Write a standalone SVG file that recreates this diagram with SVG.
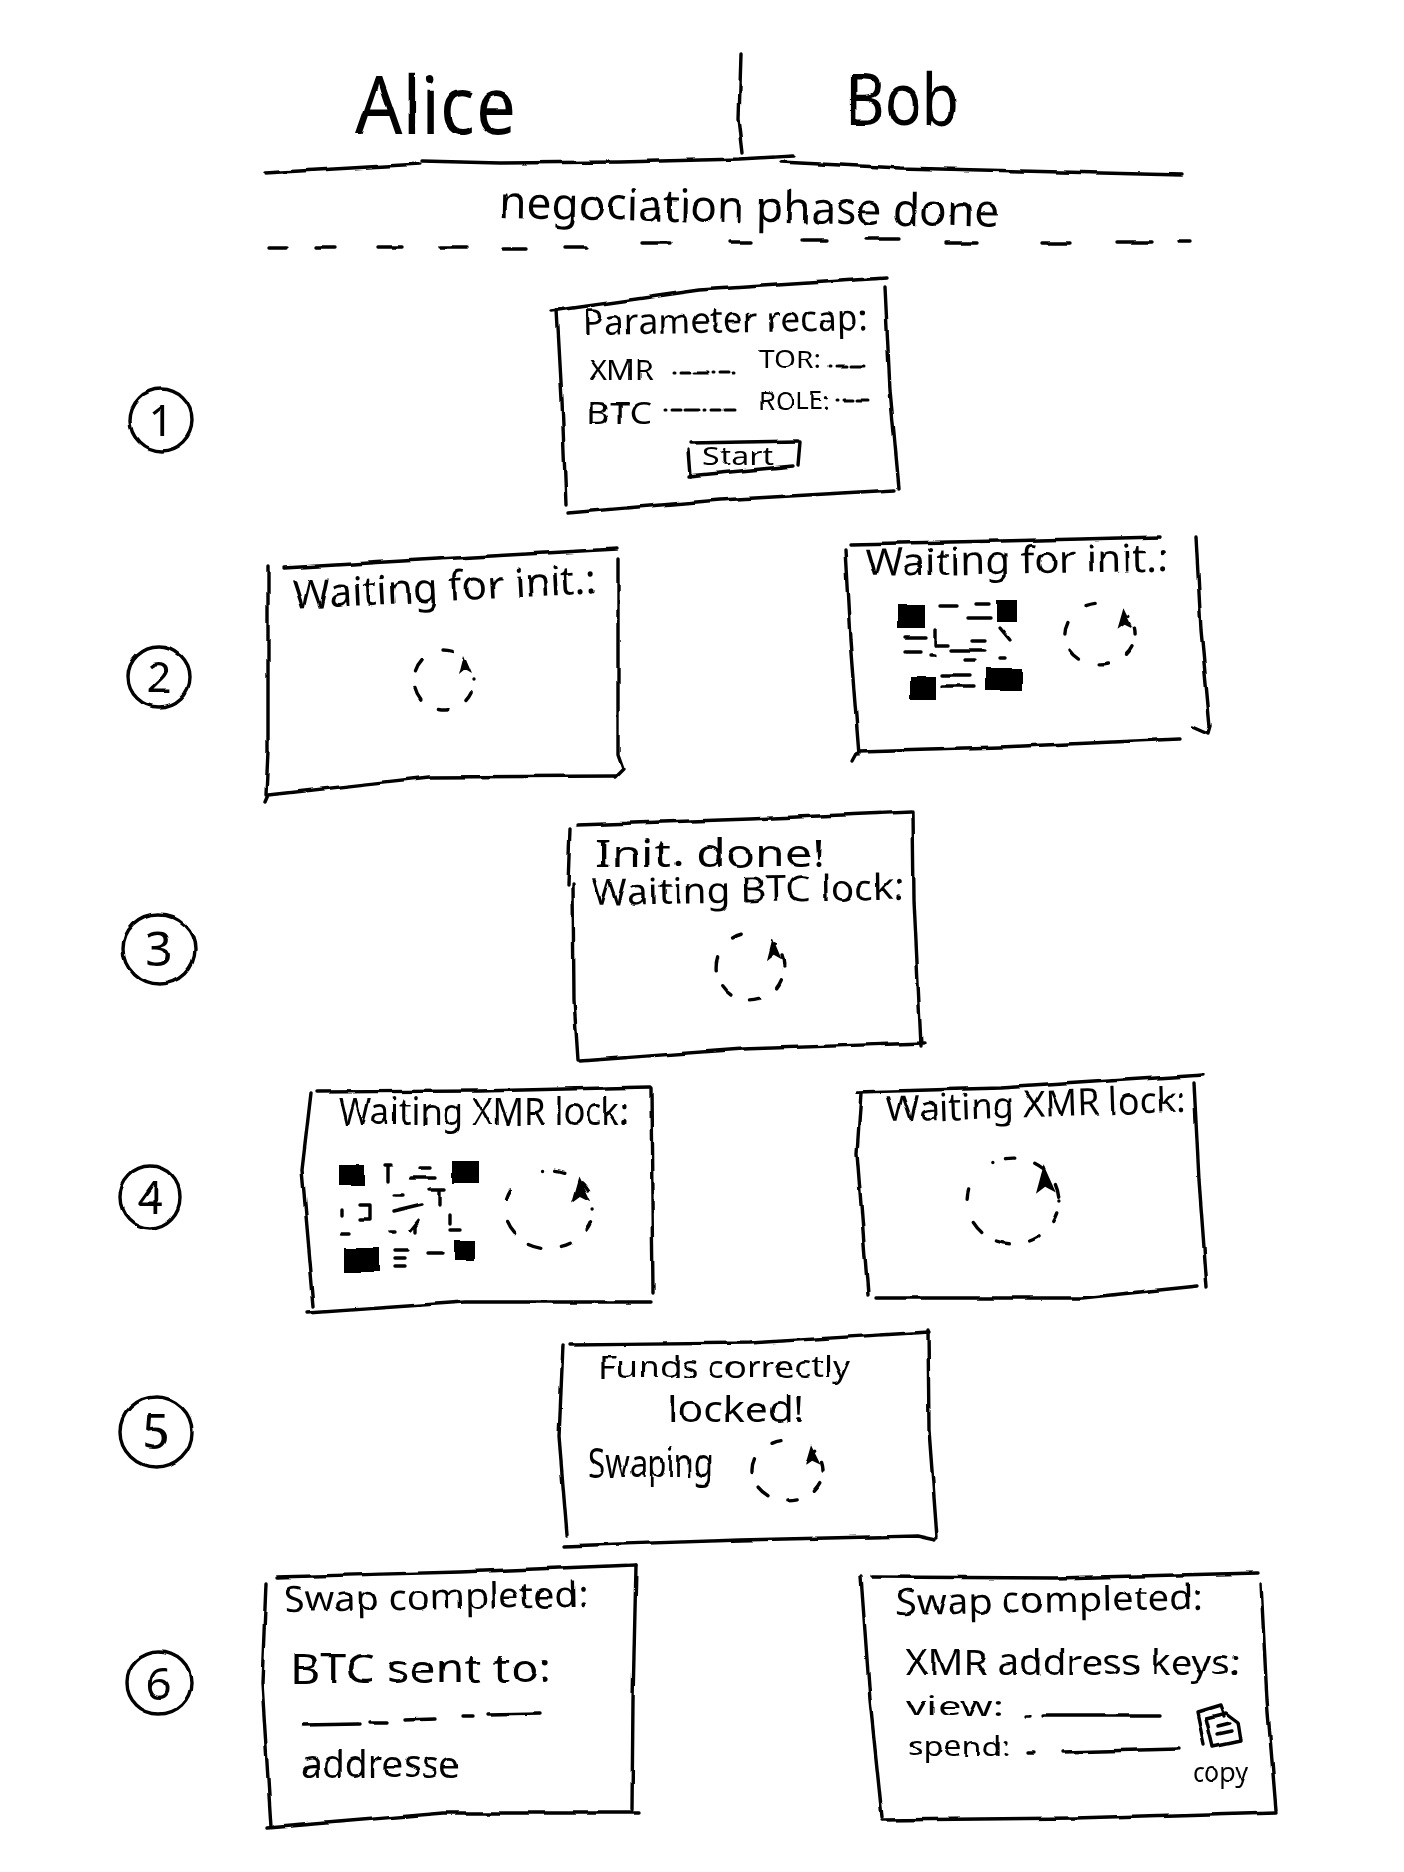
<svg xmlns="http://www.w3.org/2000/svg" width="1404" height="1872" viewBox="0 0 1404 1872">
<style>
.l{fill:none;stroke:#000;stroke-width:3.4;stroke-linecap:round;stroke-linejoin:round}
.d{fill:none;stroke:#000;stroke-width:3;stroke-linecap:round;stroke-dasharray:1 6 9 4 14 5}
.t{font-family:"Noto Sans","Liberation Sans",sans-serif;font-weight:400;fill:#000}
.n{text-anchor:middle}
.s{fill:none;stroke:#000;stroke-width:3.4;stroke-linecap:round;vector-effect:non-scaling-stroke;stroke-dasharray:0 7 5 11 5 11 7 9 7 13 5 20}
.b{fill:#000}
</style>
<defs>
<filter id="hand" filterUnits="userSpaceOnUse" x="0" y="0" width="1404" height="1872">
<feTurbulence type="fractalNoise" baseFrequency="0.03" numOctaves="2" seed="4" result="n"/>
<feDisplacementMap in="SourceGraphic" in2="n" scale="4" xChannelSelector="R" yChannelSelector="G"/>
</filter>
<g id="spinner">
<circle class="s" r="30" pathLength="100"/>
<path class="b" d="M20-25 L28-6 L21-10 L15-5Z"/>
</g>
</defs>
<rect width="1404" height="1872" fill="#fff"/>
<g filter="url(#hand)">

<g id="connectors">
<polyline class="l" points="741,54 739,119 743,153"/>
<polyline class="l" points="265,173 420,164"/>
<polyline class="l" points="422,161 500,163 620,162 740,159 794,156"/>
<polyline class="l" points="780,162 900,168 1182,175"/>
<g class="l">
<path d="M270 248H287M316 248H334M379 247H402M440 247H466M504 249H526M565 247H587M643 243H671M731 242H752M802 240H827M865 239H899M945 243H977M1042 243H1070M1118 242H1152M1178 241H1190"/>
</g>
</g>

<g id="header-alice"><text class="t" x="356" y="134" font-size="80" textLength="160" lengthAdjust="spacingAndGlyphs" font-weight="300">Alice</text></g>
<g id="header-bob"><text class="t" x="845" y="125" font-size="72" textLength="114" lengthAdjust="spacingAndGlyphs" font-weight="300">Bob</text></g>
<g id="phase"><text class="t" x="499" y="218" font-size="44" textLength="500" lengthAdjust="spacingAndGlyphs" transform="rotate(1 499 218)">negociation phase done</text></g>

<g id="step-1"><ellipse class="l" cx="161" cy="420" rx="31" ry="31"/><text class="t n" x="161" y="436" font-size="44">1</text></g>
<g id="step-2"><ellipse class="l" cx="159" cy="677" rx="31" ry="30"/><text class="t n" x="159" y="693" font-size="44">2</text></g>
<g id="step-3"><ellipse class="l" cx="159" cy="949" rx="36" ry="35"/><text class="t n" x="159" y="966" font-size="48">3</text></g>
<g id="step-4"><ellipse class="l" cx="150" cy="1197" rx="30" ry="31"/><text class="t n" x="150" y="1213" font-size="44">4</text></g>
<g id="step-5"><ellipse class="l" cx="156" cy="1432" rx="36" ry="35"/><text class="t n" x="156" y="1449" font-size="48">5</text></g>
<g id="step-6"><ellipse class="l" cx="159" cy="1683" rx="32" ry="31"/><text class="t n" x="159" y="1699" font-size="44">6</text></g>

<g id="box-1">
<polyline class="l" points="552,311 700,290 887,278"/>
<polyline class="l" points="885,287 890,390 899,488"/>
<polyline class="l" points="568,513 720,500 895,490"/>
<polyline class="l" points="557,310 562,400 566,505"/>
<text class="t" x="583" y="335" font-size="36" textLength="285" lengthAdjust="spacingAndGlyphs" transform="rotate(-1 583 335)">Parameter recap:</text>
<text class="t" x="589" y="380" font-size="28" textLength="65" lengthAdjust="spacingAndGlyphs">XMR</text>
<path class="d" d="M674 373H734"/>
<text class="t" x="759" y="368" font-size="25" textLength="62" lengthAdjust="spacingAndGlyphs">TOR:</text>
<path class="d" d="M830 366H868"/>
<text class="t" x="587" y="424" font-size="30" textLength="65" lengthAdjust="spacingAndGlyphs">BTC</text>
<path class="d" d="M665 410H734"/>
<text class="t" x="759" y="410" font-size="26" textLength="71" lengthAdjust="spacingAndGlyphs">ROLE:</text>
<path class="d" d="M837 400H868"/>
<polyline class="l" points="690,443 798,441"/>
<polyline class="l" points="800,442 798,465"/>
<polyline class="l" points="688,476 793,466"/>
<polyline class="l" points="688,450 690,476"/>
<text class="t" x="702" y="465" font-size="26" textLength="72" lengthAdjust="spacingAndGlyphs">Start</text>
</g>

<g id="box-2-alice">
<polyline class="l" points="284,568 420,560 617,549"/>
<polyline class="l" points="618,559 618,755 623,769 615,777"/>
<polyline class="l" points="265,802 268,795 429,777 615,776"/>
<polyline class="l" points="268,566 268,751 266,795"/>
<text class="t" x="293" y="609" font-size="40" textLength="305" lengthAdjust="spacingAndGlyphs" transform="rotate(-3 293 609)">Waiting for init.:</text>
<use href="#spinner" transform="translate(444 680)"/>
</g>

<g id="box-2-bob">
<polyline class="l" points="850,544 1000,541 1160,537"/>
<polyline class="l" points="1196,537 1201,630 1210,727 1208,734 1192,727"/>
<polyline class="l" points="853,762 859,751 1000,747 1180,739"/>
<polyline class="l" points="845,549 850,640 859,755"/>
<text class="t" x="866" y="576" font-size="38" textLength="302" lengthAdjust="spacingAndGlyphs" transform="rotate(-1 866 576)">Waiting for init.:</text>
<g id="qr-1">
<rect class="b" x="897" y="604" width="28" height="24"/><rect class="b" x="996" y="600" width="22" height="22"/><rect class="b" x="910" y="677" width="26" height="23"/><rect class="b" x="986" y="668" width="36" height="23"/>
<path class="l" d="M940 606H958M975 604H988M968 618H990M905 637H925M935 630V645H948M972 640H985M1000 628L1010 640M905 652H920M930 655H935M950 650H985M965 660H975M1000 658H1005M942 686H975M942 675H970"/>
</g>
<use href="#spinner" transform="translate(1100 634) scale(1.17 1.03)"/>
</g>

<g id="box-3">
<polyline class="l" points="577,825 750,819 911,812"/>
<polyline class="l" points="913,812 914,900 921,1046"/>
<polyline class="l" points="580,1061 743,1049 924,1043"/>
<polyline class="l" points="570,829 568,884"/>
<polyline class="l" points="573,884 574,1000 578,1060"/>
<text class="t" x="595" y="867" font-size="38" textLength="230" lengthAdjust="spacingAndGlyphs">Init. done!</text>
<text class="t" x="592" y="905" font-size="36" textLength="312" lengthAdjust="spacingAndGlyphs" transform="rotate(-1 592 905)">Waiting BTC lock:</text>
<use href="#spinner" transform="translate(750 967) scale(1.13)"/>
</g>

<g id="box-4-alice">
<polyline class="l" points="317,1092 480,1091 650,1087"/>
<polyline class="l" points="651,1088 652,1200 653,1292"/>
<polyline class="l" points="308,1313 465,1302 651,1302"/>
<polyline class="l" points="311,1093 302,1170 314,1307"/>
<text class="t" x="339" y="1125" font-size="38" textLength="290" lengthAdjust="spacingAndGlyphs">Waiting XMR lock:</text>
<g id="qr-2">
<rect class="b" x="339" y="1165" width="25" height="20"/><rect class="b" x="452" y="1161" width="26" height="22"/><rect class="b" x="345" y="1248" width="34" height="24"/><rect class="b" x="454" y="1240" width="20" height="20"/>
<path class="l" d="M385 1165H392M388 1165V1182M410 1178H435M420 1168H430M430 1190H445M440 1190V1205M395 1195H403M393 1212L422 1205M342 1210V1216M360 1205H370V1220H360M415 1225V1232M450 1215V1224M410 1230L418 1220M390 1232H395M450 1230H460M395 1250H408M395 1258H405M395 1266H405M428 1253H442M342 1233H350"/>
</g>
<use href="#spinner" transform="translate(549 1209) scale(1.47 1.3)"/>
</g>

<g id="box-4-bob">
<polyline class="l" points="857,1092 1000,1088 1203,1075"/>
<polyline class="l" points="1194,1083 1199,1180 1207,1288"/>
<polyline class="l" points="876,1298 1082,1298 1198,1286"/>
<polyline class="l" points="861,1093 857,1153 868,1295"/>
<text class="t" x="887" y="1122" font-size="36" textLength="299" lengthAdjust="spacingAndGlyphs" transform="rotate(-2 887 1122)">Waiting XMR lock:</text>
<use href="#spinner" transform="translate(1013 1201) scale(1.53 1.43)"/>
</g>

<g id="box-5">
<polyline class="l" points="570,1345 750,1343 929,1332"/>
<polyline class="l" points="928,1330 929,1430 937,1538"/>
<polyline class="l" points="564,1546 740,1540 917,1536 935,1540"/>
<polyline class="l" points="563,1345 559,1437 567,1535"/>
<text class="t" x="598" y="1378" font-size="31" textLength="253" lengthAdjust="spacingAndGlyphs">Funds correctly</text>
<text class="t" x="668" y="1422" font-size="36" textLength="136" lengthAdjust="spacingAndGlyphs">locked!</text>
<text class="t" x="588" y="1478" font-size="42" textLength="125" lengthAdjust="spacingAndGlyphs">Swaping</text>
<use href="#spinner" transform="translate(788 1470) scale(1.2 1.03)"/>
</g>

<g id="box-6-alice">
<polyline class="l" points="277,1577 460,1572 636,1565"/>
<polyline class="l" points="636,1565 633,1700 632,1810"/>
<polyline class="l" points="267,1828 444,1813 639,1813"/>
<polyline class="l" points="266,1583 262,1683 271,1827"/>
<text class="t" x="284" y="1612" font-size="36" textLength="304" lengthAdjust="spacingAndGlyphs" transform="rotate(-1 284 1612)">Swap completed:</text>
<text class="t" x="290" y="1683" font-size="40" textLength="261" lengthAdjust="spacingAndGlyphs">BTC sent to:</text>
<path class="l" d="M303 1725L360 1724M370 1722H386M404 1720L436 1719M463 1716H473M488 1714L540 1713"/>
<text class="t" x="301" y="1777" font-size="36" textLength="159" lengthAdjust="spacingAndGlyphs">addresse</text>
</g>

<g id="box-6-bob">
<polyline class="l" points="872,1577 1055,1578 1258,1573"/>
<polyline class="l" points="1261,1583 1267,1700 1276,1810"/>
<polyline class="l" points="882,1820 1075,1818 1276,1812"/>
<polyline class="l" points="861,1577 870,1700 882,1817"/>
<text class="t" x="896" y="1615" font-size="36" textLength="307" lengthAdjust="spacingAndGlyphs" transform="rotate(-1 896 1615)">Swap completed:</text>
<text class="t" x="906" y="1675" font-size="36" textLength="334" lengthAdjust="spacingAndGlyphs">XMR address keys:</text>
<text class="t" x="905" y="1716" font-size="28" textLength="99" lengthAdjust="spacingAndGlyphs">view:</text>
<path class="l" d="M1026 1716H1031M1043 1715H1159"/>
<text class="t" x="908" y="1756" font-size="28" textLength="102" lengthAdjust="spacingAndGlyphs">spend:</text>
<path class="l" d="M1028 1752H1034M1064 1752L1178 1749"/>
<path class="l" d="M1197 1712L1220 1705L1224 1716M1197 1712L1204 1745M1206 1718L1226 1713L1238 1722L1241 1741L1213 1747ZM1218 1726L1230 1723M1218 1734L1232 1731"/>
<text class="t" x="1193" y="1782" font-size="28" textLength="55" lengthAdjust="spacingAndGlyphs">copy</text>
</g>
</g>
</svg>
